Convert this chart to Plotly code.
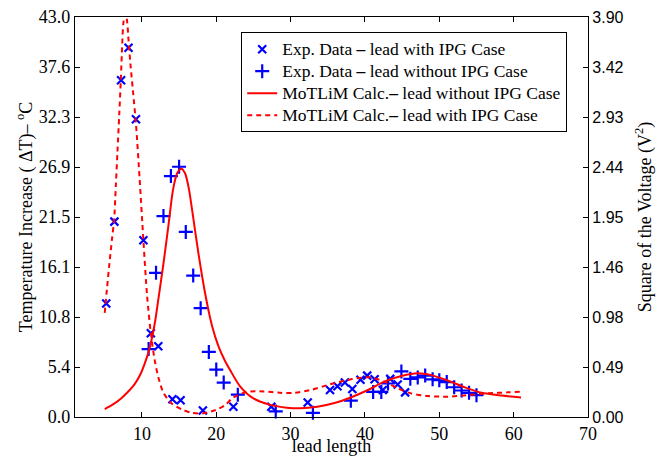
import plotly.graph_objects as go
import numpy as np

# ---------------- data ----------------
# Exp. Data - lead with IPG Case (x markers)
with_ipg_x = [5.2, 6.3, 7.2, 8.2, 9.2, 10.2, 11.2, 12.2, 14.1, 15.2, 18.2, 22.3,
              27.4, 32.3, 35.3, 36.3, 37.3, 38.3, 39.4, 40.3, 41.3, 42.4, 43.4, 44.4, 45.4]
with_ipg_y = [12.2, 21.0, 36.2, 39.7, 32.0, 19.0, 9.0, 7.6, 1.9, 1.8, 0.7, 1.1,
              1.1, 1.55, 2.9, 3.3, 3.7, 3.0, 4.0, 4.45, 4.05, 2.9, 4.1, 3.5, 2.65]

# Exp. Data - lead without IPG Case (+ markers)
without_ipg_x = [10.9, 11.9, 12.9, 13.9, 15.0, 15.9, 16.9, 17.9, 19.0, 20.0, 21.0, 22.9,
                 28.0, 33.0, 38.1, 41.1, 42.2, 43.1, 44.9, 46.1, 47.1, 48.1, 49.1,
                 50.0, 51.0, 52.0, 53.0, 54.0, 55.0]
without_ipg_y = [7.3, 15.5, 21.6, 25.9, 26.9, 19.9, 15.2, 11.7, 7.0, 5.1, 3.7, 2.4,
                 0.6, 0.45, 1.75, 2.7, 2.7, 3.6, 4.9, 4.1, 4.25, 4.45, 4.05,
                 3.95, 3.75, 3.2, 2.85, 2.6, 2.35]

# MoTLiM Calc. - lead without IPG Case (solid line)
calc_without_x = [5.0, 6.0, 7.2, 8.0, 9.0, 9.8, 10.4, 10.9, 11.3, 11.8, 12.2, 12.9, 13.6,
                  14.2, 14.8, 15.3, 15.8, 16.3, 16.8, 17.6, 18.5, 19.4, 20.3, 21.2,
                  21.9, 23.2, 25.0, 27.3, 29.5, 31.3, 33.6, 35.9, 38.1, 40.4, 42.6,
                  44.9, 47.1, 48.9, 51.2, 53.4, 55.7, 58.4, 61.0]
calc_without_y = [0.85, 1.3, 2.0, 2.6, 3.5, 4.6, 5.8, 7.0, 8.3, 10.4, 12.6, 16.5, 20.8,
                  24.5, 26.3, 26.7, 26.2, 24.6, 22.0, 17.6, 13.3, 9.9, 7.6, 6.0,
                  5.0, 3.3, 2.0, 1.3, 1.0, 0.93, 1.1, 1.5, 2.1, 2.9, 3.8,
                  4.4, 4.7, 4.5, 3.9, 3.2, 2.6, 2.3, 2.1]

# MoTLiM Calc. - lead with IPG Case (dashed line)
calc_with_x = [5.0, 5.3, 5.63, 6.0, 6.26, 6.5, 6.71, 6.95, 7.16, 7.35, 7.5, 7.75,
               8.0, 8.2, 8.45, 8.8, 9.2, 9.7, 10.2, 10.7, 11.2, 11.7, 12.2, 12.9,
               14.0, 15.4, 16.7, 18.1, 19.9, 21.2, 22.3, 24.1, 26.4, 28.6, 30.4,
               32.7, 35.0, 37.2, 39.5, 40.8, 42.6, 44.4, 46.2, 48.5, 51.2, 53.9,
               56.6, 59.3, 61.0]
calc_with_y = [11.2, 13.8, 16.5, 19.3, 21.2, 25.0, 28.5, 32.5, 36.2, 40.0, 42.3, 43.4,
               42.6, 40.5, 38.0, 35.0, 31.5, 25.5, 19.0, 13.0, 9.0, 6.2, 4.3, 2.6,
               1.45, 0.8, 0.45, 0.38, 0.75, 1.29, 2.1, 2.7, 2.75, 2.6, 2.6,
               2.9, 3.44, 3.9, 4.23, 4.26, 3.8, 3.08, 2.54, 2.26, 2.18, 2.37,
               2.54, 2.65, 2.72]

legend_names = [
    "Exp. Data <b>–</b> lead with IPG Case",
    "Exp. Data <b>–</b> lead without IPG Case",
    "MoTLiM Calc.<b>–</b> lead without IPG Case",
    "MoTLiM Calc.<b>–</b> lead with IPG Case",
]

left_tick_labels = ["0.0", "5.4", "10.8", "16.1", "21.5", "26.9", "32.3", "37.6", "43.0"]
right_tick_labels = ["0.00", "0.49", "0.98", "1.46", "1.95", "2.44", "2.93", "3.42", "3.90"]
x_ticks = [10, 20, 30, 40, 50, 60, 70]

left_max = 43.0
right_max = 3.90

serif = "Liberation Serif, Times New Roman, serif"
sans = "Liberation Sans, Arial, sans-serif"
BLUE = "rgb(0,0,255)"
RED = "rgb(255,0,0)"


def leg(name):
    return '<span style="font-size:17.5px">' + name + "</span>"


fig = go.Figure()

fig.add_trace(go.Scatter(
    x=with_ipg_x, y=with_ipg_y, mode="markers",
    name=leg(legend_names[0]),
    marker=dict(symbol="x-thin", size=8, color=BLUE,
                line=dict(color=BLUE, width=2.2)),
    cliponaxis=False))

fig.add_trace(go.Scatter(
    x=without_ipg_x, y=without_ipg_y, mode="markers",
    name=leg(legend_names[1]),
    marker=dict(symbol="cross-thin", size=10, color=BLUE,
                line=dict(color=BLUE, width=2.2)),
    cliponaxis=False))

fig.add_trace(go.Scatter(
    x=calc_without_x, y=calc_without_y, mode="lines",
    name=leg(legend_names[2]),
    line=dict(color=RED, width=2, shape="spline", smoothing=0.8)))

fig.add_trace(go.Scatter(
    x=calc_with_x, y=calc_with_y, mode="lines",
    name=leg(legend_names[3]),
    line=dict(color=RED, width=2, dash="5px,4px", shape="spline", smoothing=0.8)))

# empty trace to anchor the right axis
fig.add_trace(go.Scatter(x=[], y=[], yaxis="y2", showlegend=False, hoverinfo="skip"))

fig.update_layout(
    template="none",
    width=668, height=456,
    margin=dict(l=75, r=80, t=17, b=39, autoexpand=False),
    paper_bgcolor="white", plot_bgcolor="white",
    font=dict(family=serif, size=17, color="black"),
    showlegend=True,
    legend=dict(
        x=0.324, y=0.962, xanchor="left", yanchor="top",
        bgcolor="white", bordercolor="black", borderwidth=1,
        font=dict(family=serif, size=14.6, color="black"),
        itemwidth=30, tracegroupgap=0,
    ),
    xaxis=dict(
        range=[1, 70], tickvals=x_ticks, ticktext=[str(v) for v in x_ticks],
        automargin=False,
        showgrid=False, zeroline=False,
        showline=True, linecolor="black", linewidth=1.3, mirror="ticks",
        ticks="inside", ticklen=5, tickcolor="black", tickwidth=1,
        tickfont=dict(family=serif, size=18),
        title=dict(text="lead length", font=dict(family=serif, size=18), standoff=0),
    ),
    yaxis=dict(
        range=[0, left_max],
        tickvals=list(np.linspace(0, left_max, len(left_tick_labels))),
        ticktext=left_tick_labels,
        automargin=False,
        showgrid=False, zeroline=False,
        showline=True, linecolor="black", linewidth=1.3,
        ticks="inside", ticklen=5, tickcolor="black", tickwidth=1,
        tickfont=dict(family=serif, size=18),
        title=dict(text="Temperature Increase ( ΔT)– <sup>o</sup>C",
                   font=dict(family=serif, size=18), standoff=1),
    ),
    yaxis2=dict(
        overlaying="y", side="right", anchor="x",
        range=[0, right_max],
        tickvals=list(np.linspace(0, right_max, len(right_tick_labels))),
        ticktext=right_tick_labels,
        automargin=False,
        showgrid=False, zeroline=False,
        showline=True, linecolor="black", linewidth=1.3,
        ticks="inside", ticklen=5, tickcolor="black", tickwidth=1,
        tickfont=dict(family=sans, size=16),
        title=dict(text="Square of the Voltage (V<sup>2</sup>)",
                   font=dict(family=serif, size=18), standoff=15),
    ),
)

fig.write_html("out.html",
               config={"displayModeBar": False},
               post_script="document.body.style.margin='0px';document.body.style.overflow='hidden';")
